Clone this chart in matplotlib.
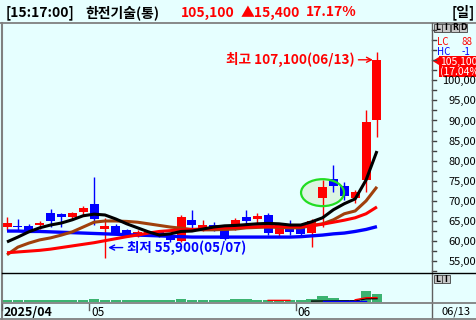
import numpy as np
import matplotlib
matplotlib.use("Agg")
import matplotlib.pyplot as plt
from matplotlib.patches import Ellipse, Rectangle, Polygon
from matplotlib.lines import Line2D

plt.rcParams['font.family'] = ['Noto Sans CJK KR', 'DejaVu Sans']

# daily candles, 2025/04 .. 06/13
opens  = [63500, 63800, 63800, 64000, 67100, 66800, 66100, 67300, 69300, 63000,
          63800, 62800, 61500, 61800, 62200, 61500, 60100, 65300, 62900, 64000,
          63000, 63200, 65900, 65600, 66500, 61800, 63500, 63300, 61900, 70700,
          75500, 73700, 70700, 75100, 90000]
highs  = [65900, 65500, 64200, 65000, 68100, 67100, 67300, 68700, 76000, 65700,
          64300, 63000, 62800, 62600, 62600, 61900, 66500, 67800, 65300, 64800,
          63500, 65700, 67800, 67000, 67100, 64600, 65300, 63800, 65400, 75300,
          78900, 74600, 72600, 92700, 107100]
lows   = [62800, 62800, 62500, 62900, 63600, 63600, 65300, 66500, 63900, 55900,
          61800, 61200, 61000, 61300, 61000, 59800, 59900, 62800, 62500, 62500,
          60300, 62800, 64000, 64400, 61500, 61300, 61500, 61300, 58600, 63600,
          72300, 70300, 69500, 72300, 86000]
closes = [64600, 63500, 62800, 64500, 64900, 65900, 67100, 68200, 65500, 63800,
          62100, 61500, 62300, 62200, 61500, 60200, 66100, 63900, 64000, 63200,
          60600, 65200, 65100, 66300, 62100, 64000, 62300, 61800, 65100, 73400,
          73600, 71200, 72300, 89700, 105100]

ma_black = [59800, 61000, 62300, 63300, 64000, 64500, 65300, 66300, 66700, 66500,
            65500, 64300, 63300, 62300, 61500, 61800, 62400, 62500, 63000, 63500,
            63800, 63900, 64100, 64300, 64400, 64300, 64000, 64000, 64800, 65800,
            67800, 69300, 70500, 75200, 82400]
ma_brown = [56600, 58500, 59500, 60300, 60800, 61500, 62300, 63500, 64700, 65000,
            65000, 64900, 64700, 64300, 63900, 63500, 63200, 62900, 62800, 62800,
            62900, 63000, 63300, 63400, 63500, 63400, 63300, 63300, 63900, 64300,
            65300, 66800, 67500, 70000, 73500]
ma_red   = [57100, 57300, 57500, 57700, 58000, 58400, 58800, 59200, 59600, 60100,
            60600, 61100, 61500, 62000, 62400, 62600, 62800, 62900, 63000, 63200,
            63300, 63400, 63500, 63600, 63600, 63600, 63600, 63600, 63800, 64200,
            64700, 65200, 65800, 66800, 68500]
ma_blue  = [62500, 62500, 62400, 62400, 62300, 62200, 62100, 62000, 61900, 61800,
            61700, 61600, 61500, 61400, 61300, 61200, 61100, 61000, 61000, 61000,
            61000, 61000, 61000, 61000, 61000, 61000, 61000, 61100, 61300, 61500,
            61800, 62000, 62400, 62900, 63600]

volume = [250, 250, 250, 250, 250, 250, 250, 250, 450, 250,
          250, 250, 250, 250, 250, 250, 450, 250, 250, 250,
          250, 450, 450, 250, 250, 250, 250, 250, 450, 1000,
          650, 300, 300, 2100, 1550]
vol_ma_black = [np.nan] * 28 + [80, 100, 110, 120, 130, 540, 560]
vol_ma_blue  = [np.nan] * 29 + [150, 150, 150, 150, 150, np.nan]
vol_ma_red   = [np.nan] * 24 + [220, 220, 220] + [np.nan] * 5 + [340, 740, 760]

price_ticks = list(range(55000, 100001, 5000))
date_labels = ['2025/04', '05', '06']
date_idx = [0, 8, 27]
last_date = '06/13'
name = '한전기술(통)'
clock = '[15:17:00]'
price_now = '105,100'
change = '▲15,400'
change_pct = '17.17%'

W, H = 476, 320
bg = '#E6FFFF'
up, down = '#FF0000', '#0000FF'

fig = plt.figure(figsize=(W / 100, H / 100), dpi=100)
fig.patch.set_facecolor(bg)


def fx(px):
    return px / W


def fy(py):
    return 1 - py / H


def hline(y, x0, x1, color, lw=1.0):
    fig.add_artist(Line2D([fx(x0), fx(x1)], [fy(y), fy(y)], color=color, lw=lw))


def vline(x, y0, y1, color, lw=1.0):
    fig.add_artist(Line2D([fx(x), fx(x)], [fy(y0), fy(y1)], color=color, lw=lw))


x = np.arange(len(closes))
colors = [up if c >= o else down for o, c in zip(opens, closes)]

# ---- price pane
ax = fig.add_axes([fx(2), fy(273), fx(430), (273 - 23) / H])
ax.set_facecolor(bg)
ax.set_xlim(-0.46, 39.06)
ax.set_ylim(52065, 114250)
for s in ax.spines.values():
    s.set_visible(False)
ax.set_xticks([])
ax.set_yticks([])

mark = (29, (opens[29] + closes[29]) / 2)
ax.add_patch(Ellipse(mark, 3.95, 6700, facecolor='#DDF5E2', edgecolor='none', zorder=1))
ax.vlines(x, lows, highs, colors=colors, lw=1.0, zorder=2)
body_lo = np.minimum(opens, closes)
body_h = np.abs(np.array(closes) - np.array(opens))
ax.bar(x, body_h, bottom=body_lo, width=0.83, color=colors, zorder=3)
ax.add_patch(Ellipse(mark, 3.95, 6700, facecolor='none', edgecolor='#22DD22', lw=1.6, zorder=6))

ax.plot(x, ma_blue, color='#0000FF', lw=2.4, zorder=4, solid_capstyle='butt')
ax.plot(x, ma_brown, color='#A0400C', lw=2.2, zorder=4, solid_capstyle='butt')
ax.plot(x, ma_red, color='#FF0000', lw=2.2, zorder=4, solid_capstyle='butt')
ax.plot(x, ma_black, color='#000000', lw=2.2, zorder=5, solid_capstyle='butt')

arrow = '->,head_length=0.35,head_width=0.18'
hi = int(np.argmax(highs))
lo = int(np.argmin(lows))
hi_pt = (hi - 0.12, closes[hi])
ax.annotate('', xy=hi_pt, xytext=(-20, 0), textcoords='offset pixels',
            arrowprops=dict(arrowstyle=arrow, color=up, lw=1.0))
ax.annotate(f'최고 {highs[hi]:,}(06/13)', xy=hi_pt, xytext=(-21, 0),
            textcoords='offset pixels', ha='right', va='center', color=up,
            fontsize=9.8, weight='bold')
# arrow level for the low mark sits 10 px above the low
lo_px = ax.transData.transform((lo + 0.05, lows[lo])) + np.array([0, 10])
lo_pt = ax.transData.inverted().transform(lo_px)
ax.annotate('', xy=tuple(lo_pt), xytext=(20, 0), textcoords='offset pixels',
            arrowprops=dict(arrowstyle=arrow, color=down, lw=1.0))
ax.annotate(f'최저 {lows[lo]:,}(05/07)', xy=tuple(lo_pt), xytext=(22, 0),
            textcoords='offset pixels', ha='left', va='center', color=down,
            fontsize=9.7, weight='bold')


# right price scale
def py(p):
    return 261.2 - (p - 55000) * 0.00402


for p in range(52500, 112501, 2500):
    yy = py(p)
    if 24 < yy < 272:
        hline(yy, 432, 435.5, '#404040')
for p in price_ticks:
    fig.text(fx(482), fy(py(p) + 1), f'{p:,}', ha='right', va='center', fontsize=8, color='black')

# ---- volume pane
axv = fig.add_axes([fx(2), fy(301.5), fx(430), (301.5 - 273) / H])
axv.set_facecolor(bg)
axv.set_xlim(ax.get_xlim())
axv.set_ylim(0, 2100 * 28.5 / 10.7)
for s in axv.spines.values():
    s.set_visible(False)
axv.set_xticks([])
axv.set_yticks([])
axv.bar(x, volume, width=0.95, color='#3CB371', zorder=2)
axv.plot(x, vol_ma_black, color='black', lw=1.0, zorder=3)
axv.plot(x, vol_ma_blue, color='blue', lw=1.0, zorder=3)
axv.plot(x, vol_ma_red, color='red', lw=1.0, zorder=3)

# ---- frame lines
hline(22.7, 0, 476, '#808080', 1.3)
vline(1.5, 23, 320, '#808080', 1.5)
vline(432, 23, 320, '#606060', 1.0)
hline(273.3, 2, 476, 'black', 1.0)
hline(302.8, 2, 476, '#808080', 1.3)
hline(319.3, 0, 476, '#808080', 1.3)

# ---- header
hy = fy(12.5)
fig.text(fx(6), hy, clock, ha='left', va='center', fontsize=10, weight='bold', color='black')
fig.text(fx(85), hy, name, ha='left', va='center', fontsize=10, weight='bold', color='black')
fig.text(fx(181), hy, price_now, ha='left', va='center', fontsize=10, weight='bold', color=up)
fig.text(fx(241), hy, change, ha='left', va='center', fontsize=10, weight='bold', color=up)
fig.text(fx(306), hy, change_pct, ha='left', va='center', fontsize=10, weight='bold', color=up)
fig.text(fx(475), hy, '[일]', ha='right', va='center', fontsize=10, weight='bold', color='black')

# ---- right side widgets
for i, ch in enumerate('LIRD'):
    x0 = 433.5 + i * 8.6
    fig.add_artist(Rectangle((fx(x0), fy(32)), fx(8), 8 / H, facecolor='#C8C8C8',
                             edgecolor='#404040', lw=0.6))
    fig.text(fx(x0 + 4), fy(28), ch, ha='center', va='center', fontsize=5.5,
             weight='bold', color='black', family='DejaVu Sans')
for i, ch in enumerate('LI'):
    x0 = 433.5 + i * 8.6
    fig.add_artist(Rectangle((fx(x0), fy(283)), fx(8), 8 / H, facecolor='#C8C8C8',
                             edgecolor='#404040', lw=0.6))
    fig.text(fx(x0 + 4), fy(279), ch, ha='center', va='center', fontsize=5.5,
             weight='bold', color='black', family='DejaVu Sans')
fig.text(fx(437), fy(42), 'LC', ha='left', va='center', fontsize=7, color=up)
fig.text(fx(462), fy(42), '88', ha='left', va='center', fontsize=7, color=up)
fig.text(fx(437), fy(52), 'HC', ha='left', va='center', fontsize=7, color=down)
fig.text(fx(462), fy(52), '-1', ha='left', va='center', fontsize=7, color=down)
fig.add_artist(Rectangle((fx(439), fy(77)), fx(40), 21 / H, facecolor=up, edgecolor='none'))
fig.add_artist(Polygon([(fx(432.5), fy(61)), (fx(439), fy(57)), (fx(439), fy(65))],
                       closed=True, facecolor=up, edgecolor='none'))
fig.text(fx(440), fy(61.5), price_now, ha='left', va='center', fontsize=7.5, color='white')
fig.text(fx(440), fy(72), '(17.04%)', ha='left', va='center', fontsize=7.5, color='white')

# ---- date row
for lab, i in zip(date_labels, date_idx):
    xd = ax.transData.transform((i - 0.42, 0))[0]
    vline(xd, 303.5, 309.5, '#606060', 1.0)
    fig.text(fx(xd + 1.5), fy(312), lab, ha='left', va='center', fontsize=9 if i == 0 else 8.5,
             weight='bold' if i == 0 else 'normal', color='black')
fig.text(fx(456), fy(312), last_date, ha='center', va='center', fontsize=8, color='black')

fig.savefig('out.png', dpi=100, facecolor=bg)
